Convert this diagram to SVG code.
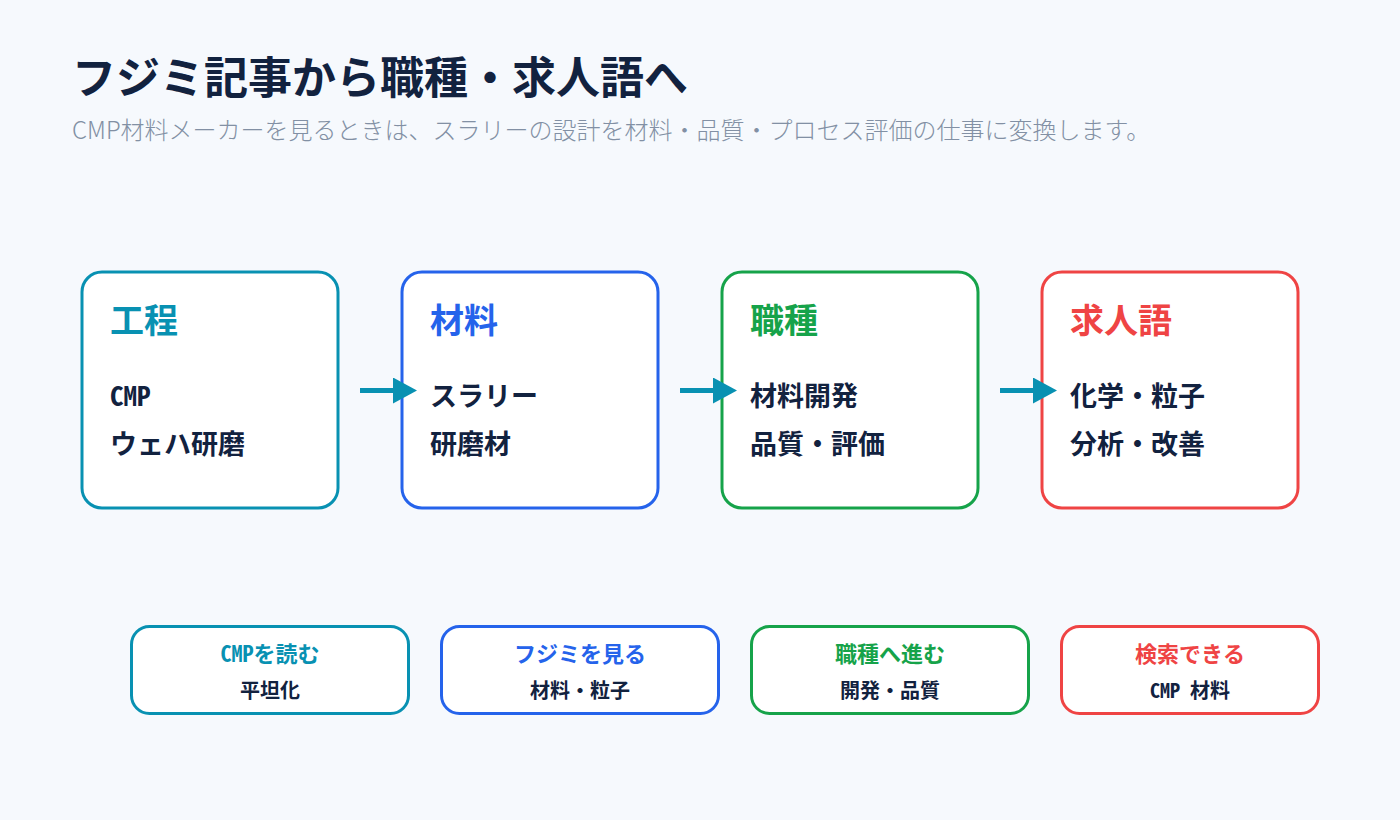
<svg xmlns="http://www.w3.org/2000/svg" width="1400" height="820" viewBox="0 0 1400 820">
<style>
.sans{font-family:"Noto Sans CJK JP","Noto Sans",sans-serif}
.mono{font-family:"Noto Sans Mono CJK JP","Noto Sans CJK JP",monospace}
.title{font-size:44px;font-weight:700;fill:#12223f}
.sub{font-size:24px;font-weight:300;fill:#8290a4}
.box{fill:#ffffff;stroke-width:3}
.head{font-size:34px;font-weight:600}
.body{font-size:27px;font-weight:600;fill:#12223f}
.ph{font-size:22px;font-weight:600;text-anchor:middle}
.pb{font-size:20px;font-weight:600;fill:#12223f;text-anchor:middle}
.conn{stroke:#0891b2;stroke-width:5;fill:none}
</style>
<defs>
<marker id="ah" markerUnits="userSpaceOnUse" markerWidth="24" markerHeight="26" refX="4" refY="13" orient="auto">
<path d="M0,0 L24,13 L0,26 z" fill="#0891b2"/>
</marker>
</defs>
<rect width="1400" height="820" fill="#f6f9fd"/>
<text class="sans title" x="72" y="94">フジミ記事から職種・求人語へ</text>
<text class="sans sub" x="72" y="139">CMP材料メーカーを見るときは、スラリーの設計を材料・品質・プロセス評価の仕事に変換します。</text>

<g id="node-process">
<rect class="box" x="82" y="272" width="256" height="236" rx="20" stroke="#0891b2"/>
<text class="sans head" x="110" y="333" fill="#0891b2">工程</text>
<text class="mono body" x="110" y="406">CMP</text>
<text class="mono body" x="110" y="454">ウェハ研磨</text>
</g>
<g id="node-material">
<rect class="box" x="402" y="272" width="256" height="236" rx="20" stroke="#2563eb"/>
<text class="sans head" x="430" y="333" fill="#2563eb">材料</text>
<text class="mono body" x="430" y="406">スラリー</text>
<text class="mono body" x="430" y="454">研磨材</text>
</g>
<g id="node-job">
<rect class="box" x="722" y="272" width="256" height="236" rx="20" stroke="#16a34a"/>
<text class="sans head" x="750" y="333" fill="#16a34a">職種</text>
<text class="mono body" x="750" y="406">材料開発</text>
<text class="mono body" x="750" y="454">品質・評価</text>
</g>
<g id="node-keyword">
<rect class="box" x="1042" y="272" width="256" height="236" rx="20" stroke="#ef4444"/>
<text class="sans head" x="1070" y="333" fill="#ef4444">求人語</text>
<text class="mono body" x="1070" y="406">化学・粒子</text>
<text class="mono body" x="1070" y="454">分析・改善</text>
</g>

<g id="connectors">
<line class="conn" x1="360" y1="390.5" x2="397" y2="390.5" marker-end="url(#ah)"/>
<line class="conn" x1="680" y1="390.5" x2="717" y2="390.5" marker-end="url(#ah)"/>
<line class="conn" x1="1000" y1="390.5" x2="1037" y2="390.5" marker-end="url(#ah)"/>
</g>

<g id="pill-read">
<rect class="box" x="131.5" y="626.5" width="277" height="87" rx="18" stroke="#0891b2"/>
<text class="mono ph" x="270" y="662" fill="#0891b2">CMPを読む</text>
<text class="mono pb" x="270" y="698">平坦化</text>
</g>
<g id="pill-see">
<rect class="box" x="441.5" y="626.5" width="277" height="87" rx="18" stroke="#2563eb"/>
<text class="mono ph" x="580" y="662" fill="#2563eb">フジミを見る</text>
<text class="mono pb" x="580" y="698">材料・粒子</text>
</g>
<g id="pill-go">
<rect class="box" x="751.5" y="626.5" width="277" height="87" rx="18" stroke="#16a34a"/>
<text class="mono ph" x="890" y="662" fill="#16a34a">職種へ進む</text>
<text class="mono pb" x="890" y="698">開発・品質</text>
</g>
<g id="pill-search">
<rect class="box" x="1061.5" y="626.5" width="257" height="87" rx="18" stroke="#ef4444"/>
<text class="mono ph" x="1190" y="662" fill="#ef4444">検索できる</text>
<text class="mono pb" x="1190" y="698">CMP 材料</text>
</g>
</svg>
